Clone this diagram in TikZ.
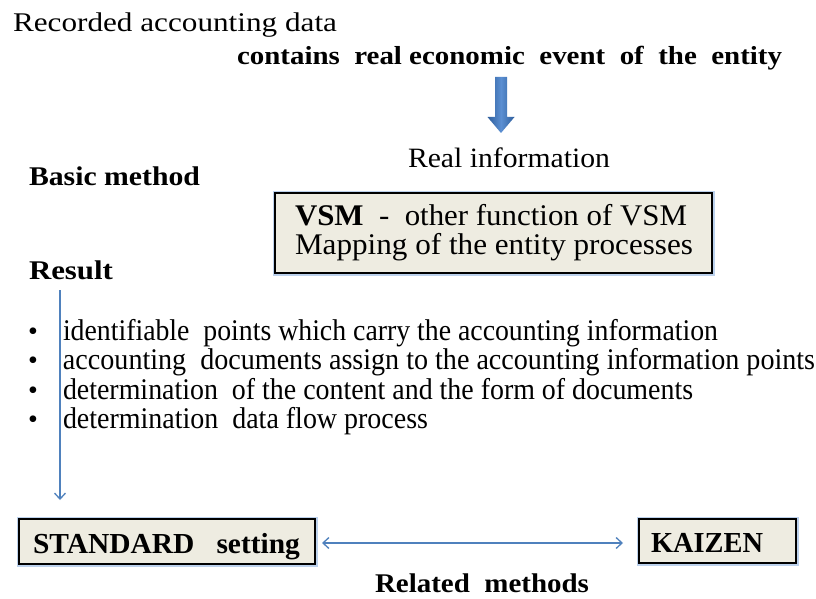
\documentclass[tikz,border=0pt]{standalone}
\usepackage{fontspec}
\setmainfont{Liberation Serif}
\usetikzlibrary{arrows.meta}
\definecolor{boxfill}{HTML}{EEECE1}
\definecolor{lineblue}{HTML}{4F81BD}
\definecolor{glowblue}{HTML}{BCD1EC}
\definecolor{arrowdark}{HTML}{2E5E9C}
\definecolor{arrowlight}{HTML}{5B8FD2}
\newcommand{\fitw}[2]{\resizebox{#1pt}{\height}{#2}}
\newcommand{\fsz}[1]{\fontsize{#1}{#1}\selectfont}
\begin{document}
\begin{tikzpicture}[x=1pt,y=-1pt,
  txt/.style={anchor=base west, inner sep=0pt, outer sep=0pt, text=black},
  boxnode/.style={rectangle, draw=black, line width=1.4pt, fill=boxfill,
    inner sep=0pt, preaction={draw=glowblue, line width=5pt}},
  thinarrow/.style={draw=lineblue, line width=1.3pt},
  barbtip/.tip={Straight Barb[length=6pt,width=11pt,line width=1.3pt]}]
\useasboundingbox (0,0) rectangle (816,599);
\fill[white] (0,0) rectangle (816,599);

% top texts
\node[txt] (rec) at (13,32) {\fsz{27}\fitw{324}{Recorded accounting data}};
\node[txt] (cont) at (237,65) {\fsz{26}\bfseries\fitw{545}{contains\ \ real economic\ \ event\ \ of\ \ the\ \ entity}};

% thick blue arrow
\coordinate (at) at (501,77);
\coordinate (ab) at (501,133);
\shade[left color=arrowdark, right color=arrowdark, middle color=arrowlight]
  ([xshift=-6pt]at) -- ([xshift=6pt]at) -- (507,117) -- (514.5,117) -- (ab)
  -- (487.5,117) -- (495,117) -- cycle;

\node[txt] (real) at (408,167) {\fsz{28}\fitw{202}{Real information}};
\node[txt] (basic) at (29,185) {\fsz{27}\bfseries\fitw{171}{Basic method}};

% VSM box
\node[boxnode, minimum width=437pt, minimum height=80pt] (vsm) at (493.5,233) {};
\node[txt] (vsm1) at (295,225) {\fsz{30}\fitw{392}{\textbf{VSM}\ \ -\ \ other function of VSM}};
\node[txt] (vsm2) at (295,254) {\fsz{30}\fitw{398}{Mapping of the entity processes}};

\node[txt] (result) at (29,279) {\fsz{27}\bfseries\fitw{84}{Result}};

% bullets
\node[txt] (d1) at (28,340) {\fsz{28}•};
\node[txt] (d2) at (28,369) {\fsz{28}•};
\node[txt] (d3) at (28,399) {\fsz{28}•};
\node[txt] (d4) at (28,428) {\fsz{28}•};
\node[txt] (l1) at (63,340) {\fsz{30}\fitw{655}{identifiable\ \ points which carry the accounting information}};
\node[txt] (l2) at (63,369) {\fsz{30}\fitw{752}{accounting\ \ documents assign\ to the accounting information points}};
\node[txt] (l3) at (63,399) {\fsz{30}\fitw{630}{determination\ \ of the content and the form of documents}};
\node[txt] (l4) at (63,428) {\fsz{30}\fitw{365}{determination\ \ data flow process}};

% bottom boxes
\node[boxnode, minimum width=296pt, minimum height=45pt] (std) at (167,541.5) {};
\node[txt] (stdt) at (33,553) {\fsz{29}\bfseries\fitw{267}{STANDARD\ \ \ setting}};
\node[boxnode, minimum width=157pt, minimum height=44pt] (kai) at (717.5,541) {};
\node[txt] (kait) at (651,552) {\fsz{29}\bfseries\fitw{112}{KAIZEN}};

\node[txt] (rel) at (375,592) {\fsz{27}\bfseries\fitw{214}{Related\ \ methods}};

% thin arrow
\coordinate (rs) at (60,290);
\coordinate (re) at (60,500);
\draw[thinarrow, -barbtip] (rs) -- (re);

% double arrow
\coordinate (da) at (322,543);
\coordinate (db) at (623,543);
\draw[thinarrow, barbtip-barbtip] (da) -- (db);
\end{tikzpicture}
\end{document}
